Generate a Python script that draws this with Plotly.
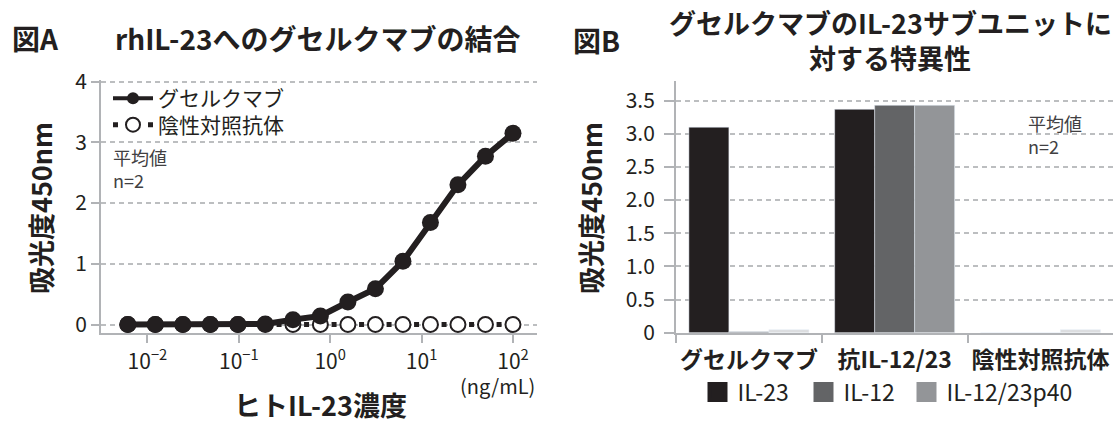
import plotly.graph_objects as go

W, H = 1115, 422
FONT = "Noto Sans CJK JP"
INK = "#231f20"
GRID = "#bcbec0"
AXIS = "#b1b3b6"
NOTE = "#414042"

# ---------------- Panel A data ----------------
conc_ng_ml = [0.0061, 0.0122, 0.0244, 0.0488, 0.0977, 0.195, 0.391, 0.781,
              1.5625, 3.125, 6.25, 12.5, 25.0, 50.0, 100.0]
guselkumab_od = [0.0, 0.0, 0.0, 0.0, 0.0, 0.01, 0.08, 0.14,
                 0.37, 0.59, 1.04, 1.68, 2.30, 2.77, 3.15]
negctrl_od = [0.0, 0.0, 0.0, 0.0, 0.0, 0.0, 0.0, 0.0,
              0.0, 0.0, 0.0, 0.0, 0.0, 0.0, 0.0]
a_xtickvals = [0.01, 0.1, 1, 10, 100]
a_xticktext = ["10<sup>−2</sup>", "10<sup>−1</sup>", "10<sup>0</sup>",
               "10<sup>1</sup>", "10<sup>2</sup>"]
a_ytickvals = [0, 1, 2, 3, 4]
a_yticktext = ["0", "1", "2", "3", "4"]
a_series = ["グセルクマブ", "陰性対照抗体"]

# ---------------- Panel B data ----------------
b_categories = ["グセルクマブ", "抗IL-12/23", "陰性対照抗体"]
b_il23 = [3.10, 3.37, 0.0]
b_il12 = [0.015, 3.43, 0.0]
b_p40 = [0.045, 3.43, 0.045]
b_series = ["IL-23", "IL-12", "IL-12/23p40"]
b_ytickvals = [0, 0.5, 1.0, 1.5, 2.0, 2.5, 3.0, 3.5]
b_yticktext = ["0", "0.5", "1.0", "1.5", "2.0", "2.5", "3.0", "3.5"]

C_IL23 = "#231f20"
C_IL12 = "#636466"
C_P40 = "#939598"
C_P40_LOW = "#dcdddf"


def px(x):
    return x / W


def py(y):
    return 1 - y / H


fig = go.Figure()

# Panel A traces (data)
fig.add_trace(go.Scatter(
    x=conc_ng_ml, y=negctrl_od, mode="lines+markers", name=a_series[1],
    xaxis="x", yaxis="y", showlegend=False,
    line=dict(color=INK, width=5, dash="0px,11.25px,5px,11.25px"),
    marker=dict(size=15, color="white", line=dict(color=INK, width=2)),
))
fig.add_trace(go.Scatter(
    x=conc_ng_ml, y=guselkumab_od, mode="lines+markers", name=a_series[0],
    xaxis="x", yaxis="y", showlegend=False,
    line=dict(color=INK, width=6),
    marker=dict(size=17, color=INK),
))
# Panel A legend entries (one legend box per entry for exact spacing)
fig.add_trace(go.Scatter(
    x=[None], y=[None], mode="lines+markers", name=a_series[0],
    xaxis="x", yaxis="y", legend="legend",
    line=dict(color=INK, width=4), marker=dict(size=12, color=INK),
))
fig.add_trace(go.Scatter(
    x=[None], y=[None], mode="lines+markers", name=a_series[1],
    xaxis="x", yaxis="y", legend="legend3",
    line=dict(color=INK, width=5, dash="5px,30px"),
    marker=dict(size=14, color="white", line=dict(color=INK, width=2)),
))

# Panel B traces (data)
fig.add_trace(go.Bar(x=b_categories, y=b_il23, name=b_series[0],
                     xaxis="x2", yaxis="y2", marker_color=C_IL23,
                     showlegend=False))
fig.add_trace(go.Bar(x=b_categories, y=b_il12, name=b_series[1],
                     xaxis="x2", yaxis="y2", marker_color=C_IL12,
                     showlegend=False))
fig.add_trace(go.Bar(x=b_categories, y=b_p40, name=b_series[2],
                     xaxis="x2", yaxis="y2",
                     marker_color=[C_P40_LOW, C_P40, C_P40_LOW],
                     showlegend=False))
# Panel B legend entries (one legend box each)
b_leg_ids = ["legend2", "legend4", "legend5"]
for nm, col, lid in zip(b_series, [C_IL23, C_IL12, C_P40], b_leg_ids):
    fig.add_trace(go.Scatter(
        x=[None], y=[None], mode="markers", name=nm,
        xaxis="x2", yaxis="y2", legend=lid,
        marker=dict(symbol="square", size=16, color=col,
                    line=dict(color=col, width=4)),
    ))

tickfont = dict(family=FONT, size=21, color=INK)
legfont = dict(family=FONT, size=21, color=INK)
legfont_b = dict(family=FONT, size=23, color=INK)

fig.update_layout(
    width=W, height=H,
    margin=dict(l=0, r=0, t=0, b=0),
    paper_bgcolor="white", plot_bgcolor="white",
    font=dict(family=FONT, color=INK),
    barmode="group", bargap=0.177, bargroupgap=0,
    xaxis=dict(
        type="log", range=[-2.508, 2.263], domain=[px(101), px(537)],
        anchor="y", showgrid=False, zeroline=False,
        showline=True, linecolor=AXIS, linewidth=2,
        ticks="outside", ticklen=8, tickwidth=1.5, tickcolor=AXIS,
        tickmode="array", tickvals=a_xtickvals, ticktext=a_xticktext,
        tickfont=tickfont, automargin=False,
    ),
    yaxis=dict(
        range=[-0.145, 4.02], domain=[py(333.3), py(80.4)],
        anchor="x", zeroline=False,
        showgrid=True, gridcolor=GRID, gridwidth=1.5, griddash="5px,4px",
        showline=True, linecolor=AXIS, linewidth=2,
        ticks="outside", ticklen=8, tickwidth=1.5, tickcolor=AXIS,
        tickmode="array", tickvals=a_ytickvals, ticktext=a_yticktext,
        tickfont=tickfont, automargin=False,
    ),
    xaxis2=dict(
        type="category", range=[-0.5, 2.5], domain=[px(676), px(1113.3)],
        anchor="y2", showgrid=False, zeroline=False,
        showline=True, linecolor=AXIS, linewidth=2,
        ticks="outside", tickson="boundaries", ticklen=8, tickwidth=1.5,
        tickcolor=AXIS, ticklabelstandoff=6, tickangle=0,
        tickfont=dict(family=FONT, size=23, color=INK, weight="bold"),
        automargin=False,
    ),
    yaxis2=dict(
        range=[0, 3.8], domain=[py(332.7), py(80.8)],
        anchor="x2", zeroline=False,
        showgrid=True, gridcolor=GRID, gridwidth=1.5, griddash="5px,4px",
        showline=True, linecolor=AXIS, linewidth=2,
        ticks="outside", ticklen=10, tickwidth=1.5, tickcolor=AXIS,
        ticklabelstandoff=5,
        tickmode="array", tickvals=b_ytickvals, ticktext=b_yticktext,
        tickfont=tickfont, automargin=False,
    ),
    legend=dict(
        x=px(108), y=py(98.5), xanchor="left", yanchor="middle",
        bgcolor="rgba(0,0,0,0)", font=legfont, itemclick=False,
        itemwidth=40,
    ),
    legend3=dict(
        x=px(108), y=py(125), xanchor="left", yanchor="middle",
        bgcolor="rgba(0,0,0,0)", font=legfont, itemclick=False,
        itemwidth=40,
    ),
    legend2=dict(
        x=px(697.5), y=py(392), xanchor="left", yanchor="middle",
        bgcolor="rgba(0,0,0,0)", font=legfont_b, itemclick=False,
    ),
    legend4=dict(
        x=px(803.5), y=py(392), xanchor="left", yanchor="middle",
        bgcolor="rgba(0,0,0,0)", font=legfont_b, itemclick=False,
    ),
    legend5=dict(
        x=px(906.5), y=py(392), xanchor="left", yanchor="middle",
        bgcolor="rgba(0,0,0,0)", font=legfont_b, itemclick=False,
    ),
)

annots = [
    dict(text="<b>図A</b>", x=px(10), y=py(38), xanchor="left", size=28),
    dict(text="<b>rhIL-23へのグセルクマブの結合</b>", x=px(317), y=py(38),
         xanchor="center", size=28),
    dict(text="<b>図B</b>", x=px(571), y=py(40), xanchor="left", size=28),
    dict(text="<b>グセルクマブのIL-23サブユニットに</b>", x=px(890), y=py(23),
         xanchor="center", size=27),
    dict(text="<b>対する特異性</b>", x=px(890), y=py(57),
         xanchor="center", size=27),
    dict(text="<b>ヒトIL-23濃度</b>", x=px(320), y=py(404),
         xanchor="center", size=27),
    dict(text="(ng/mL)", x=px(537), y=py(385), xanchor="right", size=20),
]
for a in annots:
    fig.add_annotation(text=a["text"], x=a["x"], y=a["y"], xref="paper",
                       yref="paper", xanchor=a["xanchor"], yanchor="middle",
                       showarrow=False,
                       font=dict(family=FONT, size=a["size"], color=INK))

# notes
for xl, yc in [(111, 168), (1026, 134)]:
    fig.add_annotation(text="平均値<br>n=2", x=px(xl), y=py(yc), xref="paper",
                       yref="paper", xanchor="left", yanchor="middle",
                       align="left", showarrow=False,
                       font=dict(family=FONT, size=18, color=NOTE))

# y titles
for xc in [40, 590]:
    fig.add_annotation(text="<b>吸光度450nm</b>", x=px(xc), y=py(208),
                       xref="paper", yref="paper", xanchor="center",
                       yanchor="middle", textangle=-90, showarrow=False,
                       font=dict(family=FONT, size=27, color=INK))

fig.write_html("out.html",
               config={"displayModeBar": False},
               post_script="document.body.style.margin='0px';")
